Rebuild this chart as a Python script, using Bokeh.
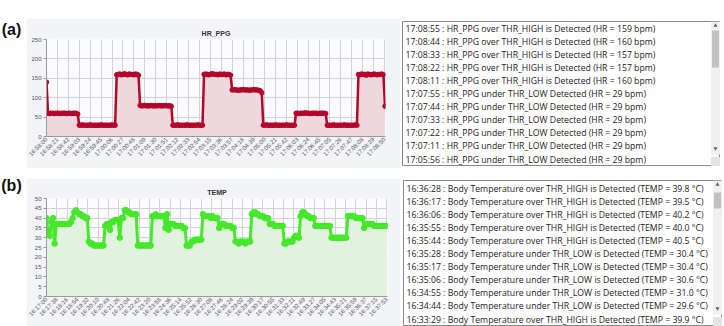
import math
from bokeh.plotting import figure
from bokeh.models import Range1d, FixedTicker, ColumnDataSource, Spacer
from bokeh.layouts import row, column
from bokeh.embed import file_html
from bokeh.resources import INLINE
from bokeh.core.properties import value

# ---------------- data ----------------
hr_tick_labels = ["16:58:00", "16:58:21", "16:58:42", "16:59:03", "16:59:24", "16:59:45",
                  "17:00:06", "17:00:27", "17:00:48", "17:01:09", "17:01:30", "17:01:51",
                  "17:02:12", "17:02:33", "17:02:54", "17:03:15", "17:03:36", "17:03:57",
                  "17:04:18", "17:04:39", "17:05:00", "17:05:21", "17:05:42", "17:06:03",
                  "17:06:24", "17:06:45", "17:07:05", "17:07:26", "17:07:47", "17:08:08",
                  "17:08:29", "17:08:50"]
hr_step_s = 3  # sampling interval (s) of the HR series, starting at 16:58:00
hr_values = [140,
             60, 59, 60, 60, 59, 60, 60, 60, 59, 60, 60, 60, 59, 60, 60, 59, 60, 60, 60, 58,
             29, 29, 30, 29, 29, 29, 29, 30, 29, 29, 29, 29, 29, 29, 30, 29, 29, 29, 29, 29, 29, 30, 29, 29,
             159, 160, 161, 159, 160, 162, 160, 159, 161, 160, 160, 159, 161, 160, 158,
             80, 79, 79, 80, 79, 79, 79, 80, 79, 79, 79, 79, 80, 79, 79, 79, 80, 79, 79, 79, 78,
             29, 29, 29, 30, 29, 29, 29, 29, 29, 30, 29, 29, 29, 29, 29, 29, 30, 29, 29, 29,
             160, 161, 160, 159, 160, 162, 161, 160, 160, 159, 161, 160, 160, 161, 159, 160, 160, 158,
             120, 121, 120, 120, 119, 120, 120, 121, 120, 120, 120, 119, 120, 120, 121, 120, 120, 119, 118, 113,
             29, 29, 30, 29, 29, 29, 29, 29, 30, 29, 29, 29, 29, 29, 29, 30, 29, 29, 29, 29, 29,
             60, 60, 59, 60, 60, 60, 61, 60, 60, 59, 60, 60, 60, 60, 59, 60, 60, 60, 60, 59,
             29, 29, 29, 29, 30, 29, 29, 29, 29, 29, 29, 30, 29, 29, 29, 29, 29, 29, 30, 29,
             160, 159, 161, 160, 160, 158, 161, 160, 159, 160, 161, 160, 159, 160, 160, 161, 159,
             78]

temp_tick_labels = ["16:17:00", "16:17:38", "16:18:16", "16:18:54", "16:19:32", "16:20:10",
                    "16:20:48", "16:21:26", "16:22:04", "16:22:42", "16:23:20", "16:23:58",
                    "16:24:36", "16:25:14", "16:25:52", "16:26:30", "16:27:08", "16:27:46",
                    "16:28:24", "16:29:02", "16:29:39", "16:30:17", "16:30:55", "16:31:33",
                    "16:32:11", "16:32:49", "16:33:27", "16:34:05", "16:34:43", "16:35:21",
                    "16:35:59", "16:36:37", "16:37:15", "16:37:53"]
temp_step_s = 6  # sampling interval (s) of the TEMP series, starting at 16:17:00
temp_values = [40, 33, 31, 38, 40, 27,
               37, 37, 37, 37, 37, 37, 37, 37, 37,
               38, 40, 43, 44, 43, 42, 42, 41, 41, 40, 40,
               28, 27, 27, 26, 26, 26, 26, 26, 26, 26,
               36, 37, 37, 34, 38, 38, 39, 39, 39, 30, 40, 40,
               44, 44, 43, 43, 42, 42, 42, 42,
               26, 26, 26, 26, 26, 26, 26, 26, 26,
               41, 41, 42, 41, 41, 41, 41, 41,
               35, 42, 34, 37, 37, 37, 36, 36, 36, 36, 36, 35, 35,
               26, 26, 26, 28, 28, 29, 29, 29, 29, 29,
               42, 41, 41, 41, 41, 40, 41, 40, 40, 40,
               35, 37, 37, 37, 36, 36, 36, 36, 35, 35,
               28, 28, 27, 28, 28, 28, 27, 28, 28, 28,
               42, 43, 43, 42, 42, 41, 41, 41, 40, 40, 40,
               37, 37, 37, 36, 36, 36, 36, 36, 36,
               27, 27, 28, 28, 28, 28, 30, 31, 31, 30,
               41, 43, 43, 42, 41, 41, 40, 40, 40,
               36, 36, 36, 36, 36, 36, 36, 36, 36, 36,
               30, 30, 30, 30, 30, 30, 30, 30, 30, 30,
               41, 41, 41, 41, 41, 40, 40, 40, 40, 40,
               35, 37, 37, 37, 37, 37,
               36, 36, 36, 36, 36, 36, 36, 36, 36]

hr_log = ["17:08:55 : HR_PPG over THR_HIGH is Detected (HR = 159 bpm)",
          "17:08:44 : HR_PPG over THR_HIGH is Detected (HR = 160 bpm)",
          "17:08:33 : HR_PPG over THR_HIGH is Detected (HR = 157 bpm)",
          "17:08:22 : HR_PPG over THR_HIGH is Detected (HR = 157 bpm)",
          "17:08:11 : HR_PPG over THR_HIGH is Detected (HR = 160 bpm)",
          "17:07:55 : HR_PPG under THR_LOW Detected (HR = 29 bpm)",
          "17:07:44 : HR_PPG under THR_LOW Detected (HR = 29 bpm)",
          "17:07:33 : HR_PPG under THR_LOW Detected (HR = 29 bpm)",
          "17:07:22 : HR_PPG under THR_LOW Detected (HR = 29 bpm)",
          "17:07:11 : HR_PPG under THR_LOW Detected (HR = 29 bpm)",
          "17:05:56 : HR_PPG under THR_LOW Detected (HR = 29 bpm)"]

temp_log = ["16:36:28 : Body Temperature over THR_HIGH is Detected (TEMP = 39.8 \u00b0C)",
            "16:36:17 : Body Temperature over THR_HIGH is Detected (TEMP = 39.5 \u00b0C)",
            "16:36:06 : Body Temperature over THR_HIGH is Detected (TEMP = 40.2 \u00b0C)",
            "16:35:55 : Body Temperature over THR_HIGH is Detected (TEMP = 40.0 \u00b0C)",
            "16:35:44 : Body Temperature over THR_HIGH is Detected (TEMP = 40.5 \u00b0C)",
            "16:35:28 : Body Temperature under THR_LOW is Detected (TEMP = 30.4 \u00b0C)",
            "16:35:17 : Body Temperature under THR_LOW is Detected (TEMP = 30.4 \u00b0C)",
            "16:35:06 : Body Temperature under THR_LOW is Detected (TEMP = 30.6 \u00b0C)",
            "16:34:55 : Body Temperature under THR_LOW is Detected (TEMP = 31.0 \u00b0C)",
            "16:34:44 : Body Temperature under THR_LOW is Detected (TEMP = 29.6 \u00b0C)",
            "16:33:29 : Body Temperature over THR_HIGH is Detected (TEMP = 39.9 \u00b0C)"]

# ---------------- helpers ----------------
FONT = "Liberation Sans"
PANEL_BG = "#f3f4f8"


def to_sec(lbl):
    h, m, s = (int(v) for v in lbl.split(":"))
    return h * 3600 + m * 60 + s


def make_chart(title, step, vals, labels, x_end, y_end, y_step, line_color, fill_color,
               msize, lw, w, h, bl, br, bt, bb):
    base = to_sec(labels[0])
    ticks = [to_sec(l) - base for l in labels]
    t = [i * step for i in range(len(vals))]
    src = ColumnDataSource(dict(t=t, v=vals))
    p = figure(width=w, height=h, x_range=Range1d(0, x_end), y_range=Range1d(0, y_end),
               toolbar_location=None, output_backend="svg", title=title,
               min_border_left=bl, min_border_right=br, min_border_top=bt, min_border_bottom=bb)
    p.border_fill_color = PANEL_BG
    p.background_fill_color = "#fbfbfd"
    p.outline_line_color = None
    p.title.align = "center"
    p.title.text_font = FONT
    p.title.text_font_size = "7px"
    p.title.text_font_style = "bold"
    p.title.text_color = "#333333"
    p.title.standoff = 5
    p.varea(x="t", y1=0, y2="v", source=src, fill_color=fill_color)
    p.line("t", "v", source=src, line_color=line_color, line_width=lw)
    p.scatter("t", "v", source=src, size=msize, fill_color=line_color, line_color=line_color)
    p.xaxis.ticker = FixedTicker(ticks=ticks)
    p.xaxis.major_label_overrides = {tk: lb for tk, lb in zip(ticks, labels)}
    p.xaxis.major_label_orientation = math.pi / 4
    p.yaxis.ticker = FixedTicker(ticks=list(range(0, y_end + 1, y_step)))
    for ax in (p.xaxis, p.yaxis):
        ax.major_label_text_font = FONT
        ax.major_label_text_font_size = "6px"
        ax.major_label_text_color = "#555555"
        ax.axis_line_color = "#9a9a9a"
        ax.major_tick_line_color = "#9a9a9a"
        ax.minor_tick_line_color = None
        ax.major_tick_in = 0
        ax.major_label_standoff = 2
    p.xaxis.major_tick_out = 0
    p.yaxis.major_tick_out = 3
    p.xgrid.ticker = FixedTicker(ticks=ticks)
    p.grid.grid_line_color = "#d2d2da"
    p.grid.grid_line_width = 1
    return p


def make_label(txt, w, h, cy):
    p = figure(width=w, height=h, x_range=Range1d(0, w), y_range=Range1d(h, 0),
               toolbar_location=None, output_backend="svg", min_border=0)
    p.axis.visible = False
    p.grid.visible = False
    p.outline_line_color = None
    p.text(x=[w / 2 - 2], y=[cy], text=[txt], text_font=value(FONT), text_font_size="16px",
           text_font_style="bold", text_align="center", text_baseline="middle", text_color="#111111")
    return p


def make_log(lines, w, h, y0, dy, thumb):
    p = figure(width=w, height=h, x_range=Range1d(0, w), y_range=Range1d(h, 0),
               toolbar_location=None, output_backend="svg", min_border=0)
    p.axis.visible = False
    p.grid.visible = False
    p.outline_line_color = "#8a8a8a"
    p.background_fill_color = "white"
    ys = [y0 + i * dy for i in range(len(lines))]
    p.text(x=[3] * len(lines), y=ys, text=lines, text_font=value("Open Sans"),
           text_font_size="8.7px", text_align="left", text_baseline="middle", text_color="#222222")
    # scrollbar
    sx = w - 5
    p.rect(x=[sx], y=[h / 2 - 6], width=9, height=h - 12, fill_color="#f0f0f0", line_color=None)
    p.rect(x=[sx], y=[(thumb[0] + thumb[1]) / 2], width=7, height=thumb[1] - thumb[0],
           fill_color="#c1c1c1", line_color=None)
    p.scatter(x=[sx], y=[4], marker="triangle", size=4, fill_color="#606060", line_color=None)
    p.scatter(x=[sx], y=[h - 18], marker="inverted_triangle", size=4, fill_color="#606060", line_color=None)
    p.scatter(x=[sx], y=[h - 5], marker="square", size=9, fill_color="#e4e4e4", line_color=None)
    return p


chart_a = make_chart("HR_PPG", hr_step_s, hr_values, hr_tick_labels, 652, 250, 50,
                     "#b5052b", "#efd7de", 4.5, 2.5, 374, 150, 20, 15, 21, 32)
chart_b = make_chart("TEMP", temp_step_s, temp_values, temp_tick_labels, 1256, 50, 5,
                     "#45e82a", "#e1f3df", 5.5, 3, 374, 148, 20, 13, 20, 30)

log_a = make_log(hr_log, 318, 145, 7, 13.1, (9, 46))
log_b = make_log(temp_log, 319, 146, 8, 13.1, (12, 28))

top = row(make_label("(a)", 26, 172, 29),
          column(Spacer(width=374, height=18), chart_a, Spacer(width=374, height=4)),
          Spacer(width=2, height=172),
          column(Spacer(width=318, height=21), log_a, Spacer(width=318, height=6)))
bottom = row(make_label("(b)", 26, 154, 13),
             column(Spacer(width=374, height=6), chart_b),
             Spacer(width=3, height=154),
             column(Spacer(width=319, height=8), log_b))
layout = column(top, bottom)

open("out.html", "w").write(file_html(layout, INLINE))
